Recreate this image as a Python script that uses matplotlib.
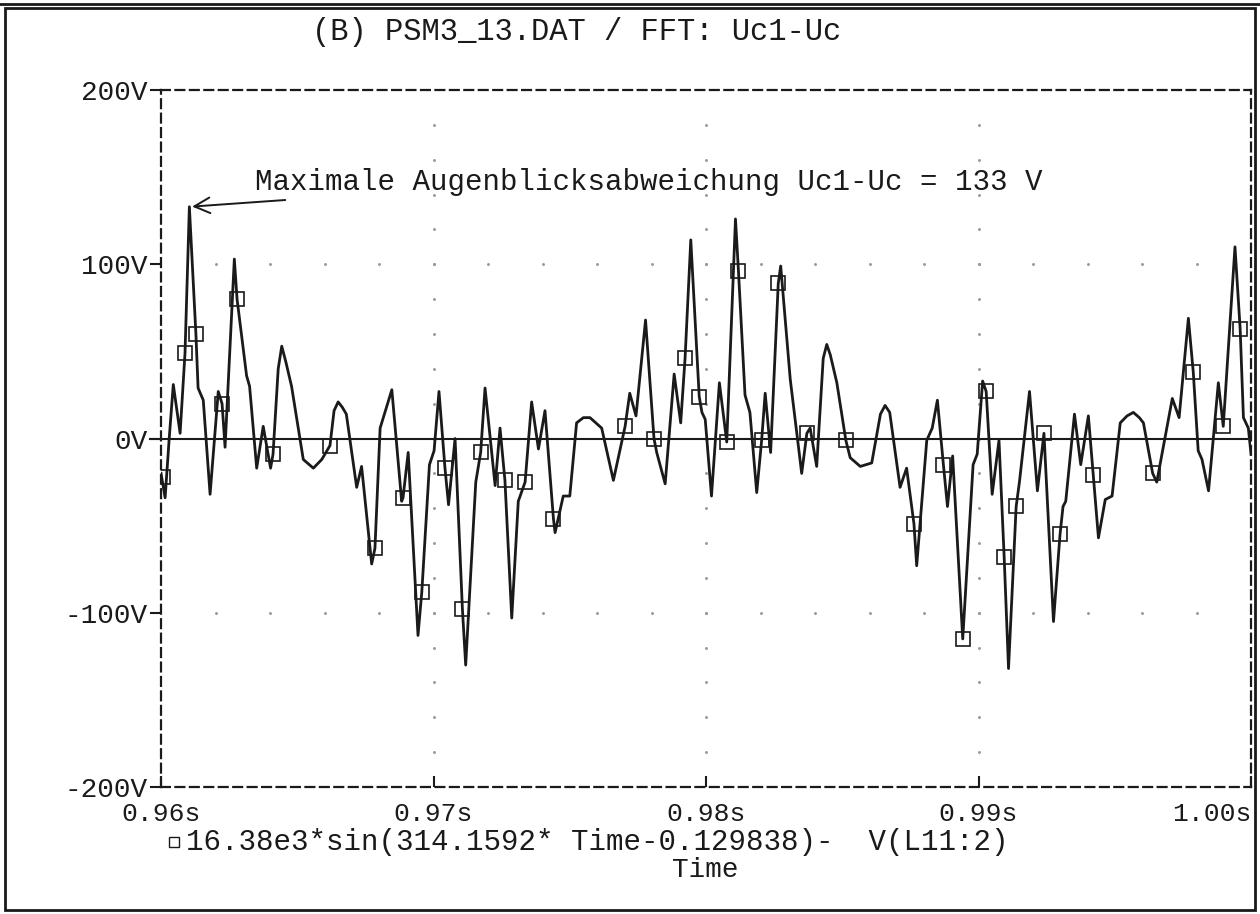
import numpy as np
import matplotlib
matplotlib.use("Agg")
import matplotlib.pyplot as plt
from matplotlib.patches import Rectangle
from matplotlib.lines import Line2D

plt.rcParams['font.family'] = ['Liberation Mono', 'DejaVu Sans Mono']

# Uc1-Uc Verlauf, Zeit in ms ab 0.96 s, Spannung in V
t_ms = [0.00, 0.15, 0.30, 0.45, 0.70, 0.88, 1.04, 1.28, 1.36, 1.55, 1.80, 2.10, 2.24,
        2.35, 2.69, 2.79, 3.14, 3.25, 3.51, 3.75, 4.02, 4.11, 4.30, 4.43, 4.58, 4.79,
        5.22, 5.59, 5.90, 6.20, 6.35, 6.50, 6.65, 6.80, 7.18, 7.36, 7.73, 7.85, 8.04,
        8.47, 8.83, 8.88, 9.07, 9.43, 9.57, 9.85, 10.02, 10.20, 10.42, 10.55, 10.79,
        11.06, 11.18, 11.55, 11.73, 11.89, 12.26, 12.44, 12.62, 12.87, 13.11, 13.36,
        13.60, 13.85, 14.09, 14.40, 14.46, 14.76, 15.00, 15.25, 15.50, 15.74, 16.17,
        16.60, 17.03, 17.20, 17.43, 17.78, 18.09, 18.19, 18.50, 18.83, 19.07, 19.23,
        19.44, 19.75, 19.85, 19.97, 20.20, 20.49, 20.76, 21.08, 21.19, 21.43, 21.61,
        21.86, 22.04, 22.17, 22.37, 22.65, 22.74, 23.09, 23.51, 23.70, 23.82, 24.06,
        24.30, 24.43, 24.56, 24.80, 25.13, 25.29, 25.66, 26.08, 26.40, 26.57, 26.74,
        27.12, 27.36, 27.63, 27.73, 28.10, 28.30, 28.49, 28.71, 28.86, 29.05, 29.42,
        29.80, 29.95, 30.15, 30.28, 30.50, 30.75, 30.94, 31.10, 31.38, 31.50, 31.87,
        32.16, 32.40, 32.75, 32.99, 33.10, 33.20, 33.52, 33.75, 34.03, 34.21, 34.40,
        34.65, 34.90, 35.20, 35.45, 35.68, 35.90, 36.05, 36.39, 36.54, 37.11, 37.36,
        37.70, 37.88, 38.06, 38.20, 38.44, 38.80, 38.98, 39.41, 39.60, 39.72, 39.90,
        40.00]
u_diff = [-20, -34, 0, 31, 3, 49, 133, 60, 29, 22, -32, 27, 20,
          -5, 103, 80, 36, 30, -17, 7, -17, -9, 40, 53, 44, 30,
          -12, -17, -12, -4, 16, 21, 18, 14, -28, -16, -72, -63, 6,
          28, -36, -34, -8, -113, -88, -15, -7, 27, -17, -38, 0,
          -98, -130, -25, -8, 29, -27, 6, -24, -103, -36, -25,
          21, -6, 16, -46, -54, -33, -33, 9, 12, 12, 6,
          -24, 7, 26, 13, 68, 0, -8, -26, 37, 9, 46,
          114, 24, 15, 11, -33, 32, -2, 126, 96, 25, 15,
          -31, -1, 26, -8, 89, 99, 34, -20, 3, 6, -16,
          46, 54, 48, 32, -1, -11, -16, -14, 14, 19, 15,
          -28, -17, -49, -73, -1, 6, 22, -15, -39, -10, -115,
          -15, -9, 33, 27, -32, -1, -68, -132, -39, -25, 27,
          -30, 3, -105, -55, -39, -36, 14, -15, 13, -21, -57,
          -35, -33, 9, 13, 15, 12, 9, -20, -25, 23, 12,
          69, 38, -7, -12, -30, 32, 7, 110, 63, 12, 6,
          -9]

# Symbolpunkte auf der Kurve
mark_ms = [0.07, 0.88, 1.28, 2.24, 2.79, 4.11, 6.20, 7.85, 8.88, 9.57, 10.42, 11.06,
           11.73, 12.62, 13.36, 14.40, 17.03, 18.09, 19.23, 19.75, 20.76, 21.19, 22.04,
           22.65, 23.70, 25.13, 27.63, 28.71, 29.42, 30.28, 30.94, 31.38, 32.40, 32.99,
           34.21, 36.39, 37.88, 38.98, 39.60]
mark_u = [-22, 49, 60, 20, 80, -9, -4, -63, -34, -88, -17, -98,
          -8, -24, -25, -46, 7, 0, 46, 24, -2, 96, -1,
          89, 3, -1, -49, -15, -115, 27, -68, -39, 3, -55,
          -21, -20, 38, 7, 63]

x_ticks = [0.96, 0.97, 0.98, 0.99, 1.00]
x_labels = ['0.96s', '0.97s', '0.98s', '0.99s', '1.00s']
y_ticks = [-200, -100, 0, 100, 200]
y_labels = ['-200V', '-100V', '0V', '100V', '200V']

u_max = 133
t_max_ms = 1.04

t = 0.96 + np.array(t_ms) / 1000.0
tm = 0.96 + np.array(mark_ms) / 1000.0

ink = '#1a1a1a'

fig = plt.figure(figsize=(12.6, 9.14), dpi=100)
ax = fig.add_axes([0.1278, 0.1389, 0.8651, 0.7626])
ax.set_xlim(0.96, 1.00)
ax.set_ylim(-200, 200)

# gepunktetes Raster
for gx in [0.97, 0.98, 0.99]:
    gy = np.arange(-180, 181, 20)
    ax.plot(np.full(gy.shape, gx), gy, ls='none', marker='.', ms=2.2, color='#999999')
for gy in [-100, 100]:
    gx = np.arange(0.962, 1.0, 0.002)
    ax.plot(gx, np.full(gx.shape, gy), ls='none', marker='.', ms=2.2, color='#999999')

ax.axhline(0, xmin=-0.01, xmax=0.996, color=ink, lw=1.5, clip_on=False)

ax.plot(t, u_diff, color=ink, lw=2.0, solid_joinstyle='round')
ax.plot(tm, mark_u, ls='none', marker='s', ms=9.5, mfc='none', mec=ink, mew=1.2)

for side in ['left', 'right', 'top', 'bottom']:
    ax.spines[side].set_linestyle((0, (4, 2.5)))
    ax.spines[side].set_linewidth(1.6)
    ax.spines[side].set_color(ink)

ax.set_xticks(x_ticks)
ax.set_xticklabels(x_labels, fontsize=19, color=ink)
ax.get_xticklabels()[-1].set_horizontalalignment('right')
ax.set_yticks(y_ticks)
ax.set_yticklabels(y_labels, fontsize=20, color=ink)
ax.tick_params(axis='x', direction='in', length=8, width=1.5, pad=11, colors=ink)
ax.tick_params(axis='y', direction='out', length=8, width=1.5, pad=2, colors=ink)

# Maximalwert mit Pfeil
ax.annotate('', xy=(0.96 + t_max_ms / 1000.0, u_max), xytext=(0.96466, 137),
            arrowprops=dict(arrowstyle='->', color=ink, lw=1.4, mutation_scale=28))
ax.text(0.96345, 147, 'Maximale Augenblicksabweichung Uc1-Uc = %d V' % u_max,
        fontsize=21, color=ink, ha='left', va='center')

fig.text(0.2476, 0.965, '(B) PSM3_13.DAT / FFT: Uc1-Uc', fontsize=22, color=ink,
         ha='left', va='center')

fig.lines.append(Line2D([0.138], [0.079], marker='s', ms=7, mfc='none', mec=ink, mew=1.0,
                        transform=fig.transFigure))
fig.text(0.148, 0.079, '16.38e3*sin(314.1592* Time-0.129838)-  V(L11:2)', fontsize=21,
         color=ink, ha='left', va='center')
fig.text(0.560, 0.048, 'Time', fontsize=20, color=ink, ha='center', va='center')

# Rahmen
fig.patches.append(Rectangle((0.004, 0.004), 0.992, 0.987, transform=fig.transFigure,
                             fill=False, ec=ink, lw=2))
fig.lines.append(Line2D([0.0, 1.0], [0.996, 0.996], color=ink, lw=2,
                        transform=fig.transFigure))

fig.savefig('out.png', dpi=100)
